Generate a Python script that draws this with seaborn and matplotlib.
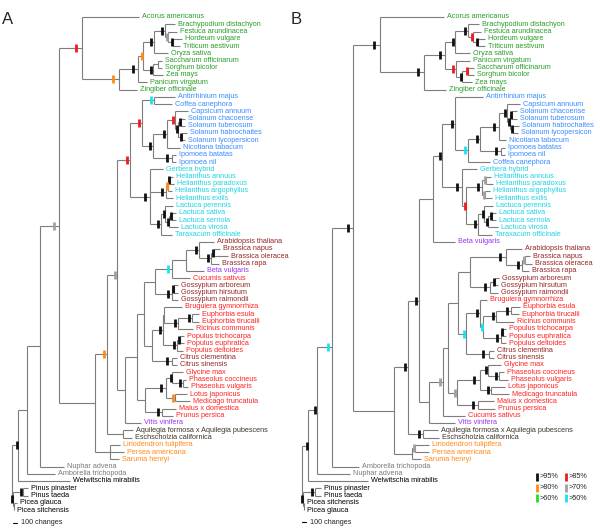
import matplotlib
matplotlib.use('Agg')
import matplotlib.pyplot as plt
from matplotlib.collections import LineCollection
import seaborn as sns

# Trees are written in Newick. Branch lengths are in scale units
# (4 units = 100 changes). The label after ')' is the bootstrap class:
# k >95%, r >85%, o >80%, g >70%, l >60%, c >50%

# ---------------- panel A ----------------
A_MONOCOTS = ("(Acorus_americanus:57,(((((Brachypodium_distachyon:10,(Festuca_arundinacea:9,"
              "(Hordeum_vulgare:9,Triticum_aestivum:7)k:5)g:3)k:11,Oryza_sativa:14)k:11,"
              "((Saccharum_officinarum:4,Sorghum_bicolor:4):5,Zea_mays:10)k:10)o:5,"
              "Panicum_virgatum:9)k:19,Zingiber_officinale:18)o:37)r:23")
A_LAMIIDS = ("((Antirrhinium_majus:21,Coffea_canephora:18)c:12,(((Capsicum_annuum:13,"
             "((Solanum_chacoense:4,Solanum_tuberosum:4)k:3,(Solanum_habrochaites:5,"
             "Solanum_lycopersicon:3)k:4)k:3)r:8,Nicotiana_tabacum:13)k:14,"
             "(Ipomoea_batatas:4,Ipomoea_nil:4)k:19)k:11)r:12")
A_CAMPANULIDS = ("(Gerbera_hybrid:13,(((Helianthus_annuus:3,Helianthus_paradoxus:4)k:2,"
                 "Helianthus_argophyllus:4)o:2,Helianthus_exilis:7)k:16,((Lactuca_perennis:8,"
                 "((Lactuca_sativa:4,Lactuca_serriola:4)k:3,Lactuca_virosa:9)k:4)k:4,"
                 "Taraxacum_officinale:11)k:11)k:20")
A_MALVIDS = ("((((Arabidopsis_thaliana:15,((Brassica_napus:6,Brassica_oleracea:14)k:3,"
             "Brassica_rapa:8)k:12)k:13,Beta_vulgaris:18):14,Cucumis_sativus:18)c:17,"
             "((Gossypium_arboreum:4,Gossypium_hirsutum:4)k:2,Gossypium_raimondii:6)k:17):11")
A_MALPIGHIALES = ("(((Bruguiera_gymnorrhiza:18,((Euphorbia_esula:7,Euphorbia_tirucalli:7)k:14,"
                  "Ricinus_communis:15)k:14):1,((Populus_trichocarpa:4,Populus_euphratica:4)k:3,"
                  "Populus_deltoides:6)k:14)k:11,(Citrus_clementina:5,Citrus_sinensis:5)k:20):8")
A_FABIDS = ("(((Glycine_max:11,(Phaseolus_coccineus:3,Phaseolus_vulgaris:5)k:11)k:6,"
            "(Lotus_japonicus:12,Medicago_truncatula:15)o:9)k:21,"
            "(Malus_x_domestica:14,Prunus_persica:11)k:17):8")
A_BASAL_EUDICOTS = "(Aquilegia_formosa_x_Aquilegia_pubescens:10,Eschscholzia_californica:9):16"
A_MAGNOLIIDS = "(Liriodendron_tulipifera:10,Persea_americana:14,Saruma_henryi:9):15"
A_CONIFERS = "((Pinus_pinaster:5,Pinus_taeda:5)k:10,(Picea_glauca:3,Picea_sitchensis:0.5):0.5)k:1"

# ---------------- panel B ----------------
B_MONOCOTS = ("(Acorus_americanus:64,((((Brachypodium_distachyon:11,(Festuca_arundinacea:8,"
              "(Hordeum_vulgare:7,Triticum_aestivum:7)k:5)r:5)k:13,Oryza_sativa:15)k:10,"
              "(Panicum_virgatum:14,((Saccharum_officinarum:6,Sorghum_bicolor:6)r:6,"
              "Zea_mays:10)k:6)r:11)k:21,Zingiber_officinale:22)k:44)k:27")
B_LAMIIDS = ("(Antirrhinium_majus:28,((((Capsicum_annuum:13,((Solanum_chacoense:5,"
             "Solanum_tuberosum:5)k:2,(Solanum_habrochaites:6,Solanum_lycopersicon:5)k:3)k:3)k:8,"
             "Nicotiana_tabacum:7)k:19,(Ipomoea_batatas:4,Ipomoea_nil:4)k:21)k:12,"
             "Coffea_canephora:22)c:13)k:13")
B_CAMPANULIDS = ("(Gerbera_hybrid:15,(((Helianthus_annuus:5,Helianthus_paradoxus:7)g:4,"
                 "(Helianthus_argophyllus:5,Helianthus_exilis:7)g:3)k:16,((Lactuca_perennis:9,"
                 "((Lactuca_sativa:4,Lactuca_serriola:4)k:4,Lactuca_virosa:10)k:4)k:6,"
                 "Taraxacum_officinale:14)k:12)r:4)k:20")
B_MALVIDS = ("((Arabidopsis_thaliana:16,((Brassica_napus:5,Brassica_oleracea:7)g:3,"
             "Brassica_rapa:7)k:16)k:36,((Gossypium_arboreum:4,Gossypium_hirsutum:3)k:5,"
             "Gossypium_raimondii:8)k:20):12")
B_MALPIGHIALES = ("((Bruguiera_gymnorrhiza:7,(((Euphorbia_esula:9,Euphorbia_tirucalli:8)k:15,"
                  "Ricinus_communis:18)k:13,((Populus_trichocarpa:3,Populus_euphratica:3)k:2,"
                  "Populus_deltoides:5)k:18)c:3)k:14,(Citrus_clementina:5,Citrus_sinensis:5)k:23)c:8")
B_FABIDS = ("(((Glycine_max:13,(Phaseolus_coccineus:5,Phaseolus_vulgaris:9)k:11)k:8,"
            "(Lotus_japonicus:14,Medicago_truncatula:18)k:11)k:23,"
            "(Malus_x_domestica:16,Prunus_persica:17)k:21)g:9")
B_BASAL_EUDICOTS = "(Aquilegia_formosa_x_Aquilegia_pubescens:15,Eschscholzia_californica:16)k:15"
B_MAGNOLIIDS = "((Liriodendron_tulipifera:14,Persea_americana:14)g:3,Saruma_henryi:9):18"
B_CONIFERS = "((Pinus_pinaster:6,Pinus_taeda:6)k:12,(Picea_sitchensis:0.5,Picea_glauca:0.5):0.5)k:1"

TREE_A = (f"((((({A_MONOCOTS},(((({A_LAMIIDS},{A_CAMPANULIDS})r:13,"
          f"((({A_MALVIDS},{A_MALPIGHIALES}):7,{A_FABIDS}):12,Vitis_vinifera:16):8)g:10,"
          f"{A_BASAL_EUDICOTS})o:12,{A_MAGNOLIIDS}):36)g:19,Nuphar_advena:24):13,"
          f"Amborella_trichopoda:28):9,Welwitschia_mirabilis:52)k:6,{A_CONIFERS});")
TREE_B = (f"((((({B_MONOCOTS},((((({B_LAMIIDS},{B_CAMPANULIDS})k:9,Beta_vulgaris:22):14,"
          f"(((({B_MALVIDS},{B_MALPIGHIALES}):10,{B_FABIDS}):5,Cucumis_sativus:22)g:14,"
          f"Vitis_vinifera:26):10)k:11,{B_BASAL_EUDICOTS})k:14,{B_MAGNOLIIDS}):41)k:21,"
          f"Amborella_trichopoda:27)c:15,Nuphar_advena:33)k:9,Welwitschia_mirabilis:60)k:6,"
          f"{B_CONIFERS});")

# taxon groups (label colours)
MONOCOT = ["Acorus americanus", "Brachypodium distachyon", "Festuca arundinacea", "Hordeum vulgare",
           "Triticum aestivum", "Oryza sativa", "Saccharum officinarum", "Sorghum bicolor",
           "Zea mays", "Panicum virgatum", "Zingiber officinale"]
LAMIID = ["Antirrhinium majus", "Coffea canephora", "Capsicum annuum", "Solanum chacoense",
          "Solanum tuberosum", "Solanum habrochaites", "Solanum lycopersicon",
          "Nicotiana tabacum", "Ipomoea batatas", "Ipomoea nil"]
CAMPANULID = ["Gerbera hybrid", "Helianthus annuus", "Helianthus paradoxus",
              "Helianthus argophyllus", "Helianthus exilis", "Lactuca perennis", "Lactuca sativa",
              "Lactuca serriola", "Lactuca virosa", "Taraxacum officinale"]
MALVID = ["Arabidopsis thaliana", "Brassica napus", "Brassica oleracea", "Brassica rapa",
          "Gossypium arboreum", "Gossypium hirsutum", "Gossypium raimondii",
          "Citrus clementina", "Citrus sinensis"]
FABID = ["Cucumis sativus", "Bruguiera gymnorrhiza", "Euphorbia esula", "Euphorbia tirucalli",
         "Ricinus communis", "Populus trichocarpa", "Populus euphratica", "Populus deltoides",
         "Glycine max", "Phaseolus coccineus", "Phaseolus vulgaris", "Lotus japonicus",
         "Medicago truncatula", "Malus x domestica", "Prunus persica"]
OTHER_CORE = ["Beta vulgaris", "Vitis vinifera"]
RANUNCULALES = ["Aquilegia formosa x Aquilegia pubescens", "Eschscholzia californica"]
MAGNOLIID = ["Liriodendron tulipifera", "Persea americana", "Saruma henryi"]
BASAL = ["Nuphar advena", "Amborella trichopoda"]

GROUP_COLORS = [(MONOCOT, '#2a9d2a'), (LAMIID, '#3a8cff'), (CAMPANULID, '#1ed4e6'),
                (MALVID, '#962828'), (FABID, '#ff2323'), (OTHER_CORE, '#9a35f0'),
                (RANUNCULALES, '#3d352b'), (MAGNOLIID, '#ff8a1a'), (BASAL, '#7a7a7a')]
SUPPORT_COLORS = {'k': '#111111', 'r': '#ee1c1c', 'o': '#ff8a1a',
                  'g': '#a0a0a0', 'l': '#22e022', 'c': '#19e3f0'}
LEGEND_ROWS = [('k', '>95%', 'r', '>85%'), ('o', '>80%', 'g', '>70%'), ('l', '>60%', 'c', '>50%')]
SCALE_UNITS = 4
SCALE_LABEL = "100 changes"


def parse_newick(s):
    pos = 0

    def node():
        nonlocal pos
        n = {'children': [], 'name': '', 'support': '', 'length': 0.0}
        if s[pos] == '(':
            pos += 1
            while True:
                n['children'].append(node())
                if s[pos] == ',':
                    pos += 1
                    continue
                pos += 1  # ')'
                break
        start = pos
        while s[pos] not in ':,);':
            pos += 1
        label = s[start:pos]
        if n['children']:
            n['support'] = label
        else:
            n['name'] = label.replace('_', ' ')
        if s[pos] == ':':
            pos += 1
            start = pos
            while s[pos] not in ',);':
                pos += 1
            n['length'] = float(s[start:pos])
        return n

    return node()


def layout(n, x0, leaves, y0, dy):
    n['x'] = x0 + n['length']
    if not n['children']:
        n['y'] = y0 + len(leaves) * dy
        leaves.append(n)
    else:
        for c in n['children']:
            layout(c, n['x'], leaves, y0, dy)
        n['y'] = (n['children'][0]['y'] + n['children'][-1]['y']) / 2


def collect(n, segs, marks, leaves):
    if not n['children']:
        leaves.append(n)
        return
    segs.append([(n['x'], n['children'][0]['y']), (n['x'], n['children'][-1]['y'])])
    for c in n['children']:
        segs.append([(n['x'], c['y']), (c['x'], c['y'])])
        if c['support']:
            off = min(max(0.25 * c['length'], 1.5), 6)
            marks.append((c['x'] - off, c['y'], c['support']))
        collect(c, segs, marks, leaves)


def leaf_color(name):
    for names, col in GROUP_COLORS:
        if name in names:
            return col
    return 'black'


def draw_tree(ax, newick, root_x):
    tree = parse_newick(newick)
    layout(tree, root_x, [], 17, 7.25)
    segs, marks, leaves = [], [], []
    collect(tree, segs, marks, leaves)
    ax.add_collection(LineCollection(segs, colors='#7d7d7d', linewidths=0.8))
    for code, col in SUPPORT_COLORS.items():
        xs = [m[0] for m in marks if m[2] == code]
        ys = [m[1] for m in marks if m[2] == code]
        if xs:
            ax.plot(xs, ys, ls='none', marker='|', ms=6, mew=2.0, color=col)
    for lf in leaves:
        ax.text(lf['x'] + 3, lf['y'], lf['name'], color=leaf_color(lf['name']),
                fontsize=5.2, va='center', ha='left')


def draw_scale(ax, x, y):
    ax.plot([x, x + SCALE_UNITS], [y, y], color='black', lw=0.8)
    ax.text(x + SCALE_UNITS + 4, y, SCALE_LABEL, fontsize=5.2, va='center', ha='left')


sns.set_theme(style='white')
plt.rcParams['font.family'] = ['Liberation Sans', 'DejaVu Sans']

fig = plt.figure(figsize=(6.0, 5.29), dpi=100)
ax_a = fig.add_axes([0, 0, 0.5, 1])
ax_b = fig.add_axes([0.5, 0, 0.5, 1])
for ax in (ax_a, ax_b):
    ax.set_xlim(0, 300)
    ax.set_ylim(529, 0)
    ax.axis('off')

draw_tree(ax_a, TREE_A, 12)
draw_tree(ax_b, TREE_B, 2)
draw_scale(ax_a, 13, 523)
draw_scale(ax_b, 2, 522)

# legend of bootstrap classes
for i, (c1, t1, c2, t2) in enumerate(LEGEND_ROWS):
    y = 477 + i * 10.5
    for code, txt, x in ((c1, t1, 237), (c2, t2, 266)):
        ax_b.plot([x], [y], marker='|', ms=6, mew=2.0, color=SUPPORT_COLORS[code])
        ax_b.text(x + 3, y, txt, fontsize=5.2, va='center', ha='left')

fig.text(2 / 600, 1 - 19 / 529, 'A', fontsize=12, va='center', ha='left')
fig.text(291 / 600, 1 - 19 / 529, 'B', fontsize=12, va='center', ha='left')

fig.savefig('out.png', dpi=100)
plt.close('all')
